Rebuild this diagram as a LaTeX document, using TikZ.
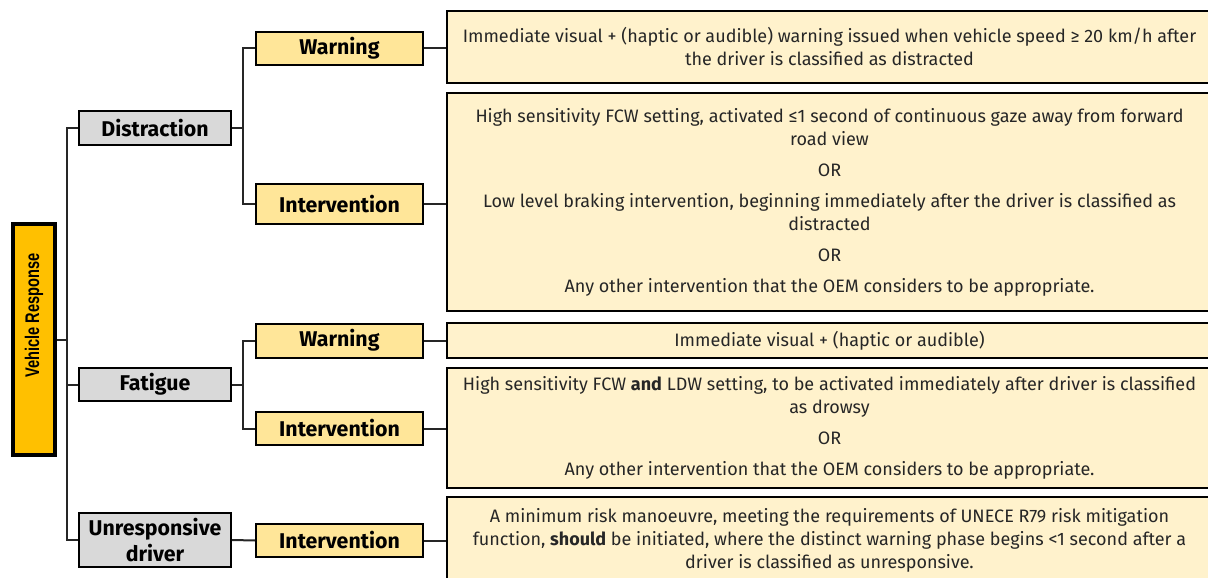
\documentclass[tikz,border=0pt]{standalone}
\usepackage{fontspec}
\setmainfont{Fira Sans}
\newfontfamily\bodyfont{Fira Sans}
\newfontfamily\headfont[FakeStretch=0.74]{Liberation Sans}
\usetikzlibrary{calc}
\definecolor{vrgold}{HTML}{FFC000}
\definecolor{catgray}{HTML}{D9D9D9}
\definecolor{labgold}{HTML}{FFE699}
\definecolor{desccream}{HTML}{FFF2CC}
\definecolor{txtgray}{HTML}{262626}
\newcommand{\px}{0.75pt}
\newcommand{\orgap}{\\[6pt]}

\begin{document}
\begin{tikzpicture}[x=\px,y=-\px,
  box/.style={draw=black,line width=1.5pt,inner sep=0pt,align=center},
  catbox/.style={box,fill=catgray,minimum width=152*\px,font=\fontsize{16}{19}\selectfont\bfseries},
  labbox/.style={box,fill=labgold,minimum width=167*\px,minimum height=33*\px,font=\fontsize{16}{19}\selectfont\bfseries},
  descbox/.style={box,fill=desccream,minimum width=765*\px,text=txtgray,font=\bodyfont\fontsize{13.5}{17.25}\selectfont},
  link/.style={line width=1.5pt,draw=black!85}]
  \useasboundingbox (0,0) rectangle (1208,578);
  % root box
  \node[box,line width=2.5pt,fill=vrgold,minimum width=42*\px,minimum height=231*\px] (vr) at (34,339.5)
    {\rotatebox{90}{\headfont\bfseries\fontsize{14.8}{16}\selectfont\hspace{36pt}Vehicle Response}};
  % categories
  \node[catbox,minimum height=34*\px] (dis) at (155,128) {Distraction};
  \node[catbox,minimum height=33*\px] (fat) at (155,384.5) {Fatigue};
  \node[catbox,minimum height=54*\px] (unr) at (155,540) {Unresponsive\\driver};
  % responses
  \node[labbox] (dwarn) at (339.5,48) {Warning};
  \node[labbox,minimum height=40*\px] (dint) at (339.5,204) {Intervention};
  \node[labbox,minimum height=34*\px] (fwarn) at (339.5,340.5) {Warning};
  \node[labbox] (fint) at (339.5,428.5) {Intervention};
  \node[labbox] (uint) at (339.5,540.5) {Intervention};
  % descriptions
  \node[descbox,minimum height=72*\px] (ddesc1) at (829.5,47)
    {Immediate visual + (haptic or audible) warning issued when vehicle speed ≥ 20 km/h after\\
     the driver is classified as distracted};
  \node[descbox,minimum height=218*\px] (ddesc2) at (829.5,202)
    {High sensitivity FCW setting, activated ≤1 second of continuous gaze away from forward\\
     road view\orgap OR\orgap
     Low level braking intervention, beginning immediately after the driver is classified as\\
     distracted\orgap OR\orgap
     Any other intervention that the OEM considers to be appropriate.};
  \node[descbox,minimum height=35*\px] (fdesc1) at (829.5,340.5)
    {Immediate visual + (haptic or audible)};
  \node[descbox,minimum height=120*\px] (fdesc2) at (829.5,428)
    {High sensitivity FCW {\bfseries and} LDW setting, to be activated immediately after driver is classified\\
     as drowsy\orgap OR\orgap
     Any other intervention that the OEM considers to be appropriate.};
  \node[descbox,minimum height=86*\px] (udesc) at (829.5,540)
    {A minimum risk manoeuvre, meeting the requirements of UNECE R79 risk mitigation\\
     function, {\bfseries should} be initiated, where the distinct warning phase begins <1 second after a\\
     driver is classified as unresponsive.};
  % tree lines
  \coordinate (trunk) at (67,0);
  \coordinate (split) at (243,0);
  \draw[link] (vr.east) -- (vr.east -| trunk);
  \draw[link] (dis.west) -- (dis.west -| trunk) |- (unr.west);
  \draw[link] (fat.west) -- (fat.west -| trunk);
  \draw[link] (dis.east) -- (dis.east -| split);
  \draw[link] (dwarn.west) -- (dwarn.west -| split) |- (dint.west);
  \draw[link] (fat.east) -- (fat.east -| split);
  \draw[link] (fwarn.west) -- (fwarn.west -| split) |- (fint.west);
  \draw[link] (unr.east) -- (uint.west);
  \foreach \lab/\desc in {dwarn/ddesc1,dint/ddesc2,fwarn/fdesc1,fint/fdesc2,uint/udesc}
    \draw[link] (\lab.east) -- (\lab.east -| \desc.west);
\end{tikzpicture}
\end{document}
